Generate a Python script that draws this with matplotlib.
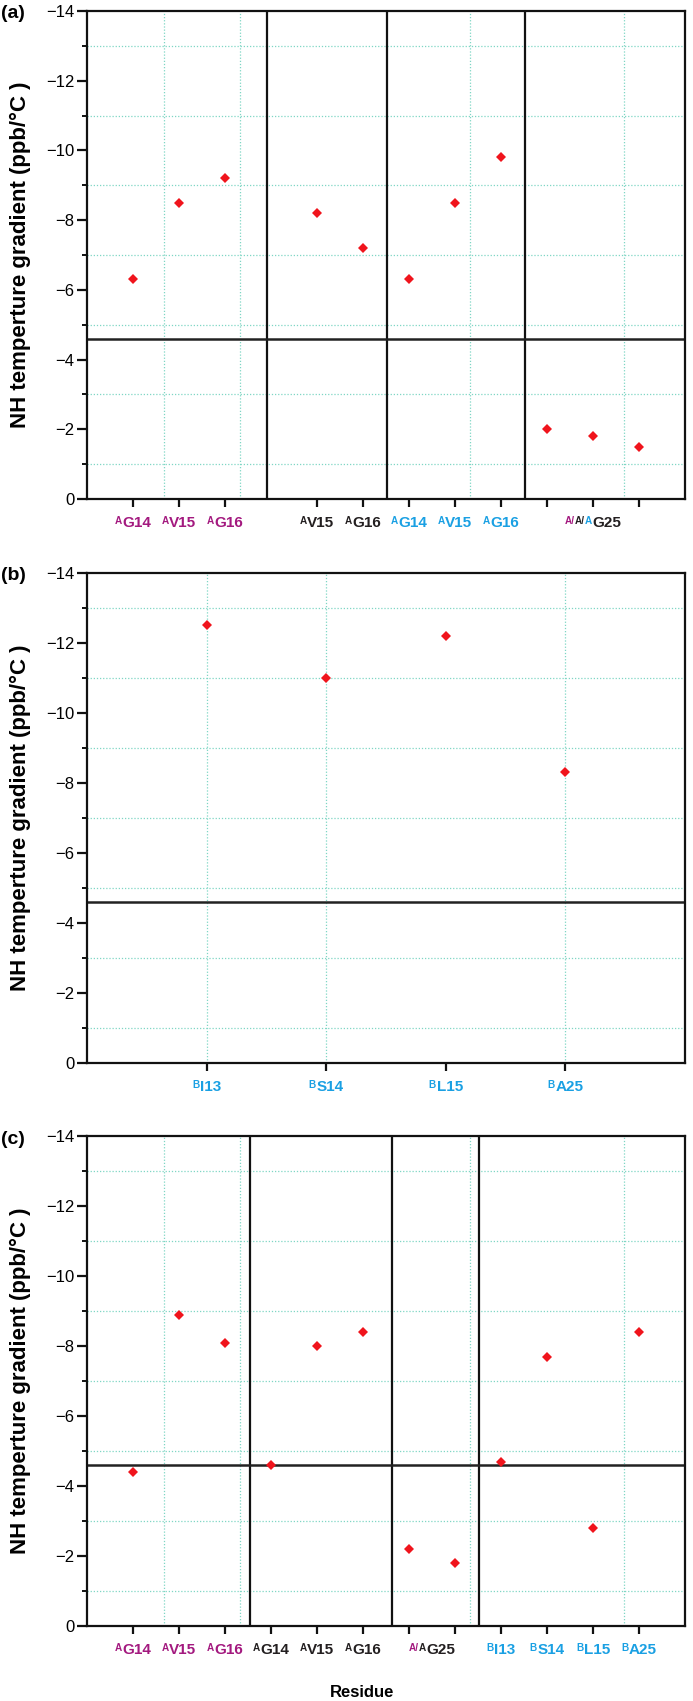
import matplotlib
matplotlib.use('Agg')
import matplotlib.pyplot as plt
from matplotlib import font_manager
from matplotlib.offsetbox import TextArea, HPacker, AnnotationBbox

# ---------------- data ----------------
MAG = '#A3197F'
BLK = '#231F20'
CYA = '#1AA0E3'

# panel (a)
a_pos = [1, 2, 3, 5, 6, 7, 8, 9, 10, 11, 12]
a_val = [-6.3, -8.5, -9.2, -8.2, -7.2, -6.3, -8.5, -9.8, -2.0, -1.8, -1.5]
a_ticks = [1, 2, 3, 5, 6, 7, 8, 9, 10, 11, 12]
a_label_pos = [1, 2, 3, 5, 6, 7, 8, 9, 11]
a_labels = [
    [('A', MAG, 1), ('G14', MAG, 0)],
    [('A', MAG, 1), ('V15', MAG, 0)],
    [('A', MAG, 1), ('G16', MAG, 0)],
    [('A', BLK, 1), ('V15', BLK, 0)],
    [('A', BLK, 1), ('G16', BLK, 0)],
    [('A', CYA, 1), ('G14', CYA, 0)],
    [('A', CYA, 1), ('V15', CYA, 0)],
    [('A', CYA, 1), ('G16', CYA, 0)],
    [('A/', MAG, 1), ('A/', BLK, 1), ('A', CYA, 1), ('G25', BLK, 0)],
]
a_sep = [3.91, 6.52, 9.53]
a_vgrid = [5 / 3, 10 / 3, 25 / 3, 35 / 3]

# panel (b)
b_pos = [1, 2, 3, 4]
b_val = [-12.5, -11.0, -12.2, -8.3]
b_ticks = [1, 2, 3, 4]
b_label_pos = [1, 2, 3, 4]
b_labels = [
    [('B', CYA, 1), ('I13', CYA, 0)],
    [('B', CYA, 1), ('S14', CYA, 0)],
    [('B', CYA, 1), ('L15', CYA, 0)],
    [('B', CYA, 1), ('A25', CYA, 0)],
]
b_sep = []
b_vgrid = [1, 2, 4]

# panel (c)
c_pos = [1, 2, 3, 4, 5, 6, 7, 8, 9, 10, 11, 12]
c_val = [-4.4, -8.9, -8.1, -4.6, -8.0, -8.4, -2.2, -1.8, -4.7, -7.7, -2.8, -8.4]
c_ticks = [1, 2, 3, 4, 5, 6, 7, 8, 9, 10, 11, 12]
c_label_pos = [1, 2, 3, 4, 5, 6, 7.5, 9, 10, 11, 12]
c_labels = [
    [('A', MAG, 1), ('G14', MAG, 0)],
    [('A', MAG, 1), ('V15', MAG, 0)],
    [('A', MAG, 1), ('G16', MAG, 0)],
    [('A', BLK, 1), ('G14', BLK, 0)],
    [('A', BLK, 1), ('V15', BLK, 0)],
    [('A', BLK, 1), ('G16', BLK, 0)],
    [('A/', MAG, 1), ('A', BLK, 1), ('G25', BLK, 0)],
    [('B', CYA, 1), ('I13', CYA, 0)],
    [('B', CYA, 1), ('S14', CYA, 0)],
    [('B', CYA, 1), ('L15', CYA, 0)],
    [('B', CYA, 1), ('A25', CYA, 0)],
]
c_sep = [3.55, 6.64, 8.52]
c_vgrid = [5 / 3, 10 / 3, 25 / 3, 35 / 3]

threshold = -4.6
y_major = [-14, -12, -10, -8, -6, -4, -2, 0]
y_minor = [-13, -11, -9, -7, -5, -3, -1]

# ---------------- fonts ----------------
def has_font(name):
    try:
        font_manager.findfont(font_manager.FontProperties(family=name), fallback_to_default=False)
        return True
    except Exception:
        return False

NUM_FONT = 'Liberation Sans Narrow' if has_font('Liberation Sans Narrow') else 'Liberation Sans'
LAB_FONT = 'Liberation Sans'
plt.rcParams['font.family'] = ['Liberation Sans', 'DejaVu Sans']

W, H = 693, 1701
fig = plt.figure(figsize=(W / 100, H / 100), dpi=100)

left = 87 / W
right = 685 / W
panels = [
    ('(a)', 11, 499, a_pos, a_val, a_ticks, a_label_pos, a_labels, a_sep, a_vgrid, (0, 13)),
    ('(b)', 573, 1063, b_pos, b_val, b_ticks, b_label_pos, b_labels, b_sep, b_vgrid, (0, 5)),
    ('(c)', 1136, 1626, c_pos, c_val, c_ticks, c_label_pos, c_labels, c_sep, c_vgrid, (0, 13)),
]

GRID_COL = '#7FD6C4'


def seg_label(ax, x, segs, dy=-12):
    kids = []
    for txt, col, sup in segs:
        kids.append(TextArea(txt, textprops=dict(color=col, fontsize=7.2 if sup else 11,
                                                 fontweight='bold', family=LAB_FONT)))
    box = HPacker(children=kids, align='top', pad=0, sep=0.3)
    ab = AnnotationBbox(box, (x, 0), xycoords=('data', 'axes fraction'),
                        xybox=(0, dy), boxcoords='offset points',
                        box_alignment=(0.5, 1), frameon=False, pad=0,
                        annotation_clip=False)
    ax.add_artist(ab)


for (letter, top, bot, pos, val, ticks, lpos, labels, seps, vgrid, xlim) in panels:
    ax = fig.add_axes([left, 1 - bot / H, right - left, (bot - top) / H])
    ax.set_xlim(*xlim)
    ax.set_ylim(0, -14)
    ax.set_yticks(y_major)
    ax.set_yticks(y_minor, minor=True)
    ax.set_yticklabels([f'\u2212{abs(v)}' if v != 0 else '0' for v in y_major],
                       family=NUM_FONT, fontsize=12)
    ax.set_xticks(ticks)
    ax.set_xticklabels([''] * len(ticks))
    ax.tick_params(axis='y', which='major', length=7, width=1.6, pad=2, color='#111111')
    ax.tick_params(axis='y', which='minor', length=3.5, width=1.4, color='#111111')
    ax.tick_params(axis='x', which='major', length=5.5, width=1.6, color='#111111')
    for s in ax.spines.values():
        s.set_linewidth(1.6)
        s.set_color('#111111')

    # dotted grid
    for yv in y_minor:
        ax.axhline(yv, color=GRID_COL, linestyle=(0, (1, 1.5)), linewidth=0.9, zorder=1)
    for xv in vgrid:
        ax.axvline(xv, color=GRID_COL, linestyle=(0, (1, 1.5)), linewidth=0.9, zorder=1)

    # separators
    for xv in seps:
        ax.axvline(xv, color='#111111', linewidth=1.6, zorder=2)
    ax.axhline(threshold, color='#222222', linewidth=1.8, zorder=2)

    ax.plot(pos, val, linestyle='none', marker='D', markersize=4.8,
            color='#F0141C', markeredgewidth=0, zorder=3)

    for xp, segs in zip(lpos, labels):
        seg_label(ax, xp, segs)

    cy = 1 - (top + bot) / 2 / H
    fig.text(20 / W, cy, 'NH temperture gradient (ppb/\u00b0C )', rotation=90,
             fontsize=16, fontweight='bold', ha='center', va='center')
    fig.text(1 / W, 1 - (top + 3) / H, letter, fontsize=14, fontweight='bold',
             ha='left', va='center')

fig.text(362 / W, 1 - 1692 / H, 'Residue', fontsize=12, fontweight='bold',
         ha='center', va='center')

fig.savefig('out.png', dpi=100)
